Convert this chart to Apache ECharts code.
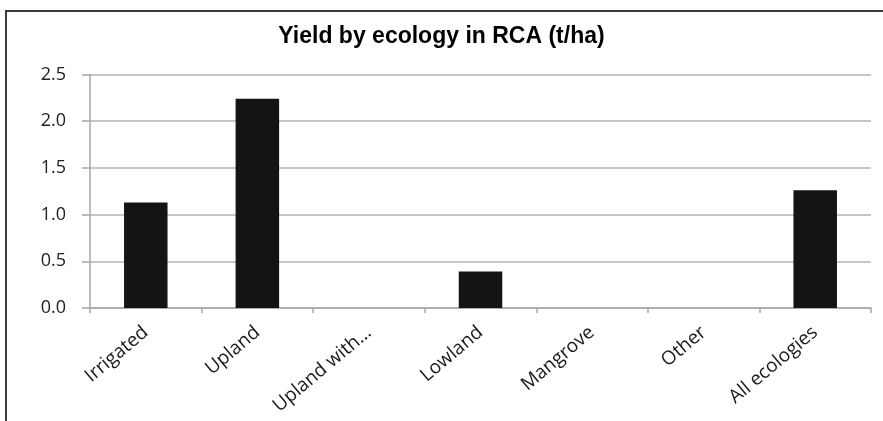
<!DOCTYPE html>
<html>
<head>
<meta charset="utf-8">
<script src="https://cdn.jsdelivr.net/npm/echarts@6/dist/echarts.min.js"></script>
<style>
html,body{margin:0;padding:0;background:#fff;}
#c{width:883px;height:421px;}
</style>
</head>
<body>
<div id="c"></div>
<script>
const chartTitle = 'Yield by ecology in RCA (t/ha)';
const categories = ['Irrigated', 'Upland', 'Upland with…', 'Lowland', 'Mangrove', 'Other', 'All ecologies'];
const yieldValues = [1.13, 2.24, 0, 0.39, 0, 0, 1.26];
const yMin = 0, yMax = 2.5, yStep = 0.5;

const chart = echarts.init(document.getElementById('c'));
chart.setOption({
  animation: false,
  backgroundColor: '#fff',
  title: {
    text: chartTitle,
    left: 'center',
    top: 20,
    textStyle: { fontFamily: 'Liberation Sans', fontWeight: 'bold', fontSize: 23, color: '#000' }
  },
  graphic: [{
    type: 'polyline',
    shape: { points: [[6, 421], [6, 11], [883, 11]] },
    style: { stroke: '#3a3a3a', lineWidth: 2, fill: null }
  }],
  grid: { left: 90, right: 12, top: 74.5, bottom: 113, containLabel: false },
  xAxis: {
    type: 'category',
    data: categories,
    axisLine: { lineStyle: { color: '#a6a6a6', width: 1.5 } },
    axisTick: { show: true, alignWithLabel: false, length: 5, lineStyle: { color: '#a6a6a6', width: 1.5 } },
    axisLabel: { rotate: 40, interval: 0, margin: 22, fontFamily: 'Open Sans', fontSize: 19, color: '#1a1a1a' }
  },
  yAxis: {
    type: 'value',
    min: yMin, max: yMax, interval: yStep,
    axisLine: { show: true, lineStyle: { color: '#a6a6a6', width: 1.5 } },
    axisTick: { show: true, length: 8, lineStyle: { color: '#a6a6a6', width: 1.5 } },
    splitLine: { lineStyle: { color: '#b3b3b3', width: 1.5 } },
    axisLabel: {
      margin: 24, fontFamily: 'Open Sans', fontSize: 18, color: '#222',
      formatter: v => v.toFixed(1)
    }
  },
  series: [{
    type: 'bar',
    data: yieldValues,
    barWidth: '39%',
    itemStyle: { color: '#141414' }
  }]
});
</script>
</body>
</html>
